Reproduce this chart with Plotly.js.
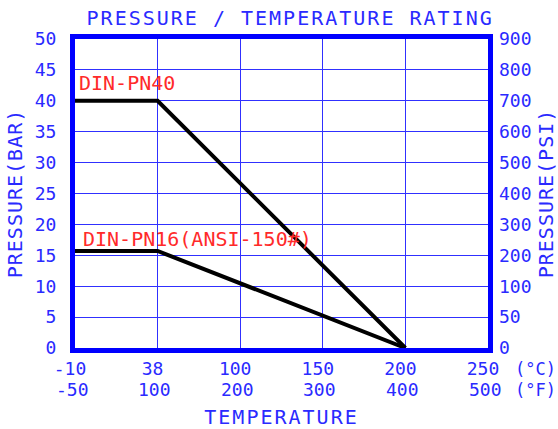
<!DOCTYPE html>
<html><head><meta charset="utf-8">
<script src="https://cdn.plot.ly/plotly-3.0.1.min.js"></script>
<style>
body{margin:0;background:#fff}
text.gtitle, text.xtitle {letter-spacing:2px}
text.ytitle, text.y2title {letter-spacing:1px}
</style>
</head><body><div id="chart" style="width:558px;height:429px"></div>
<script>
// categories (temperature tick positions)
const tempC = ['-10','38','100','150','200','250'];
const tempF = ['-50','100','200','300','400','500'];
// pressure ticks
const barTicks = [0,5,10,15,20,25,30,35,40,45,50];
const barLabels = ['0','5','10','15','20','25','30','35','40','45','50'];
const psiLabels = ['0','50','100','200','300','400','500','600','700','800','900'];
// series
const pn40X = ['-10','38','200'];
const pn40Y = [40,40,0];
const pn16X = ['-10','38','200'];
const pn16Y = [15.7,15.7,0];
const seriesNames = ['DIN-PN40','DIN-PN16(ANSI-150#)'];

const BLUE = '#0000ff';
const GRID = '#3030ff';
const TXT = '#2a2aff';
const RED = '#ff2a2a';
const FONT = 'DejaVu Sans Mono';

const traces = [
  {x: pn40X, y: pn40Y, type:'scatter', mode:'lines', line:{color:'#000', width:4}, name:seriesNames[0], hoverinfo:'skip'},
  {x: pn16X, y: pn16Y, type:'scatter', mode:'lines', line:{color:'#000', width:4}, name:seriesNames[1], hoverinfo:'skip'},
  {x: [tempC[0]], y: [0], yaxis:'y2', type:'scatter', mode:'markers', marker:{opacity:0}, showlegend:false, hoverinfo:'skip'}
];

const annotations = [
  {x: tempC.indexOf(pn40X[0]), y: pn40Y[0], xref:'x', yref:'y', text: seriesNames[0], showarrow:false, xanchor:'left', yanchor:'bottom', xshift:2, yshift:4, font:{family:FONT, size:20, color:RED}},
  {x: tempC.indexOf(pn16X[0]), y: 16, xref:'x', yref:'y', text: seriesNames[1], showarrow:false, xanchor:'left', yanchor:'bottom', xshift:6, yshift:-4, font:{family:FONT, size:20, color:RED}},
  {x: 1, y: 0, xref:'paper', yref:'paper', text:'(°C)', showarrow:false, xanchor:'left', yanchor:'top', xshift:25, yshift:-9, font:{family:FONT, size:17, color:TXT}},
  {x: 1, y: 0, xref:'paper', yref:'paper', text:'(°F)', showarrow:false, xanchor:'left', yanchor:'top', xshift:25, yshift:-30, font:{family:FONT, size:17, color:TXT}}
];
tempF.forEach((f,i)=>{
  annotations.push({x: i, y: 0, xref:'x', yref:'paper', text:f, showarrow:false, xanchor:'center', yanchor:'top', xshift:-3, yshift:-29, font:{family:FONT, size:18, color:TXT}});
});

const layout = {
  width:558, height:429,
  margin:{l:75, r:70, t:39, b:81},
  paper_bgcolor:'#fff', plot_bgcolor:'#fff',
  showlegend:false,
  title:{text:'PRESSURE / TEMPERATURE RATING', font:{family:FONT, size:20, color:TXT}, x:0.52, xanchor:'center', y:0.975, yanchor:'top'},
  xaxis:{type:'category', categoryorder:'array', categoryarray:tempC, range:[0,5],
    tickvals:tempC, ticktext:tempC, tickfont:{family:FONT, size:18, color:TXT}, ticklabelshift:-5,
    showgrid:true, gridcolor:GRID, gridwidth:1, showline:true, linecolor:BLUE, linewidth:5, mirror:true,
    ticks:'', ticklen:0, zeroline:false,
    title:{text:'TEMPERATURE', font:{family:FONT, size:20, color:TXT}, standoff:38}},
  yaxis:{range:[0,50], tickvals:barTicks, ticktext:barLabels, tickfont:{family:FONT, size:18, color:TXT}, ticklabelstandoff:10,
    showgrid:true, gridcolor:GRID, gridwidth:1, showline:true, linecolor:BLUE, linewidth:5, mirror:true,
    ticks:'', zeroline:false,
    title:{text:'PRESSURE(BAR)', font:{family:FONT, size:20, color:TXT}, standoff:8}},
  yaxis2:{range:[0,50], overlaying:'y', side:'right', tickvals:barTicks, ticktext:psiLabels, ticklabelstandoff:10,
    tickfont:{family:FONT, size:18, color:TXT}, showgrid:false, zeroline:false, ticks:'',
    title:{text:'PRESSURE(PSI)', font:{family:FONT, size:20, color:TXT}, standoff:16}},
  annotations: annotations
};

Plotly.newPlot('chart', traces, layout, {staticPlot:true, displayModeBar:false});
</script>
</body></html>
